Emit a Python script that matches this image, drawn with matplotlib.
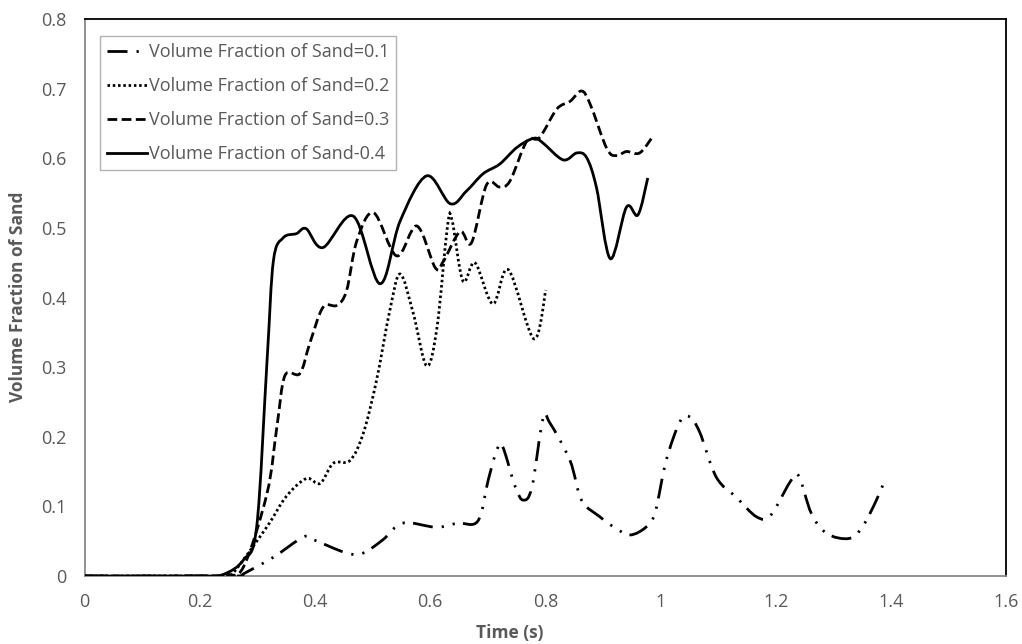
import matplotlib
matplotlib.use("Agg")
import matplotlib.pyplot as plt
from matplotlib.path import Path
from matplotlib.patches import PathPatch
from matplotlib.lines import Line2D

plt.rcParams['font.family'] = ['Open Sans', 'DejaVu Sans']
plt.rcParams['lines.scale_dashes'] = False

# ---- data ----
t01 = [0, 0.2, 0.268, 0.278, 0.328, 0.380, 0.398, 0.455, 0.484, 0.518, 0.553,
       0.611, 0.648, 0.683, 0.701, 0.716, 0.726, 0.748, 0.762, 0.777, 0.796,
       0.808, 0.843, 0.863, 0.895, 0.918, 0.947, 0.976, 0.991, 1.010, 1.034,
       1.050, 1.068, 1.097, 1.132, 1.167, 1.191, 1.225, 1.240, 1.262, 1.289,
       1.328, 1.351, 1.375, 1.390]
v01 = [0, 0, 0, 0.004, 0.027, 0.056, 0.052, 0.033, 0.033, 0.052, 0.076,
       0.07, 0.076, 0.079, 0.138, 0.181, 0.186, 0.128, 0.109, 0.128, 0.226,
       0.22, 0.166, 0.109, 0.085, 0.071, 0.059, 0.071, 0.092, 0.166, 0.222,
       0.229, 0.207, 0.142, 0.113, 0.085, 0.087, 0.135, 0.144, 0.09, 0.061,
       0.054, 0.071, 0.109, 0.139]

t02 = [0, 0.2, 0.245, 0.258, 0.317, 0.350, 0.385, 0.409, 0.432, 0.461, 0.484,
       0.507, 0.530, 0.548, 0.571, 0.594, 0.612, 0.630, 0.638, 0.657, 0.678,
       0.709, 0.736, 0.780, 0.801]
v02 = [0, 0, 0.0, 0.004, 0.071, 0.114, 0.14, 0.133, 0.162, 0.166, 0.205,
       0.281, 0.381, 0.434, 0.377, 0.302, 0.357, 0.501, 0.512, 0.424, 0.45,
       0.391, 0.44, 0.341, 0.411]

t03 = [0, 0.2, 0.245, 0.276, 0.317, 0.334, 0.348, 0.374, 0.391, 0.414, 0.438,
       0.455, 0.473, 0.502, 0.542, 0.577, 0.609, 0.623, 0.652, 0.672, 0.698,
       0.721, 0.739, 0.768, 0.790, 0.820, 0.843, 0.863, 0.878, 0.907, 0.924,
       0.941, 0.964, 0.987]
v03 = [0, 0, 0.002, 0.013, 0.119, 0.214, 0.288, 0.291, 0.334, 0.386, 0.389,
       0.41, 0.482, 0.522, 0.46, 0.503, 0.443, 0.452, 0.495, 0.479, 0.562,
       0.559, 0.568, 0.625, 0.63, 0.671, 0.682, 0.697, 0.678, 0.614, 0.604,
       0.61, 0.608, 0.632]

t04 = [0, 0.2, 0.24, 0.276, 0.299, 0.317, 0.328, 0.345, 0.368, 0.385, 0.414,
       0.467, 0.513, 0.548, 0.594, 0.635, 0.663, 0.692, 0.721, 0.751, 0.780,
       0.795, 0.831, 0.855, 0.872, 0.889, 0.913, 0.941, 0.961, 0.978]
v04 = [0, 0, 0.002, 0.023, 0.071, 0.31, 0.453, 0.486, 0.492, 0.499, 0.472,
       0.517, 0.42, 0.51, 0.575, 0.535, 0.553, 0.578, 0.592, 0.616, 0.629,
       0.623, 0.598, 0.608, 0.601, 0.558, 0.456, 0.53, 0.519, 0.572]

labels = ["Volume Fraction of Sand=0.1", "Volume Fraction of Sand=0.2",
          "Volume Fraction of Sand=0.3", "Volume Fraction of Sand-0.4"]
xticks = [0, 0.2, 0.4, 0.6, 0.8, 1.0, 1.2, 1.4, 1.6]
xticklabels = ["0", "0.2", "0.4", "0.6", "0.8", "1", "1.2", "1.4", "1.6"]
yticks = [0, 0.1, 0.2, 0.3, 0.4, 0.5, 0.6, 0.7, 0.8]
yticklabels = ["0", "0.1", "0.2", "0.3", "0.4", "0.5", "0.6", "0.7", "0.8"]

styles = [
    (0, (14.4, 6.5, 1.6, 6.5, 1.6, 6.0)),
    (0, (1.8, 2.0)),
    (0, (7.0, 3.2)),
    '-',
]

GRAY = '#595959'


def smooth_path(xs, ys):
    """Excel-like smoothed line as a cubic Bezier path through the data points."""
    n = len(xs)
    verts = [(xs[0], ys[0])]
    codes = [Path.MOVETO]
    for i in range(n - 1):
        x0, y0 = (xs[i - 1], ys[i - 1]) if i > 0 else (xs[i], ys[i])
        x1, y1 = xs[i], ys[i]
        x2, y2 = xs[i + 1], ys[i + 1]
        x3, y3 = (xs[i + 2], ys[i + 2]) if i + 2 < n else (x2, y2)
        c1 = (x1 + (x2 - x0) / 6.0, y1 + (y2 - y0) / 6.0)
        c2 = (x2 - (x3 - x1) / 6.0, y2 - (y3 - y1) / 6.0)
        verts += [c1, c2, (x2, y2)]
        codes += [Path.CURVE4] * 3
    return Path(verts, codes)


fig = plt.figure(figsize=(10.22, 6.44), dpi=100)
ax = fig.add_axes([84.5 / 1022, 1 - 576 / 644, (1006 - 84.5) / 1022, (576 - 19.3) / 644])

series = [(t01, v01), (t02, v02), (t03, v03), (t04, v04)]
handles = []
for (xs, ys), ls, lab in zip(series, styles, labels):
    patch = PathPatch(smooth_path(xs, ys), facecolor='none', edgecolor='black',
                      linewidth=2.0, linestyle=ls, capstyle='butt',
                      transform=ax.transData, zorder=3)
    ax.add_patch(patch)
    handles.append(Line2D([], [], color='black', linewidth=2.0, linestyle=ls,
                          dash_capstyle='butt', label=lab))

ax.set_xlim(0, 1.6)
ax.set_ylim(0, 0.8)
ax.set_xticks(xticks)
ax.set_xticklabels(xticklabels)
ax.set_yticks(yticks)
ax.set_yticklabels(yticklabels)
ax.tick_params(axis='both', length=0, colors=GRAY, labelsize=13)
ax.tick_params(axis='x', pad=12)
ax.tick_params(axis='y', pad=13)

for side in ['top', 'right']:
    ax.spines[side].set_color('black')
    ax.spines[side].set_linewidth(1.3)
for side in ['left', 'bottom']:
    ax.spines[side].set_color('#888888')
    ax.spines[side].set_linewidth(1.3)

fig.text(18 / 1022, 1 - 297 / 644, "Volume Fraction of Sand", rotation=90,
         ha='center', va='center', fontsize=12.5, fontweight='bold', color=GRAY)
fig.text(510 / 1022, 1 - 633 / 644, "Time (s)", ha='center', va='center',
         fontsize=12.5, fontweight='bold', color=GRAY)

leg = ax.legend(handles=handles, loc='upper left',
                bbox_to_anchor=((100 - 84.5) / (1006 - 84.5), (576 - 36) / (576 - 19.3)),
                frameon=True, fancybox=False, fontsize=13, handlelength=2.2,
                handletextpad=0.1, labelspacing=0.88, borderpad=0.4,
                borderaxespad=0.0, labelcolor=GRAY)
leg.get_frame().set_edgecolor('#a0a0a0')
leg.get_frame().set_linewidth(1.0)

fig.savefig("out.png", dpi=100)
